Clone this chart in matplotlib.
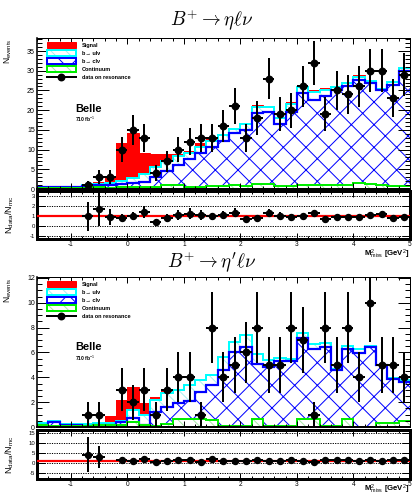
import numpy as np
import matplotlib
matplotlib.use('Agg')
import matplotlib.pyplot as plt
from matplotlib.patches import Patch
from matplotlib.lines import Line2D
from matplotlib.ticker import MultipleLocator

DPI = 136
PT = 72.0 / DPI  # one pixel expressed in points

plt.rcParams['font.family'] = ['Liberation Sans', 'DejaVu Sans']
plt.rcParams['mathtext.fontset'] = 'custom'
plt.rcParams['mathtext.rm'] = 'Liberation Sans'
plt.rcParams['mathtext.it'] = 'Liberation Sans:italic'
plt.rcParams['mathtext.bf'] = 'Liberation Sans:bold'
plt.rcParams['axes.unicode_minus'] = False
plt.rcParams['hatch.linewidth'] = 1.0 * PT

# M^2_miss binning, 0.2 GeV^2 bins from -1.6 to 5.0
edges = np.round(np.arange(-1.6, 5.01, 0.2), 2)
centers = 0.5 * (edges[:-1] + edges[1:])

# B+ -> eta l nu : data and cumulative stack levels (signal on top)
eta_data = [0, 0, 0, 0, 1, 3, 3, 10, 15, 13, 4, 7, 10, 12, 13, 13, 16, 21, 13, 18,
            28, 19, 20, 26, 32, 19, 25, 24, 26, 30, 30, 23, 29]
eta_total = [0.6, 0.5, 0.4, 0.6, 1.0, 1.75, 3.1, 11.6, 14.3, 9.2, 8.8, 8.9, 9.0, 9.6,
             11.6, 13.3, 14.0, 15.3, 16.8, 21.2, 21.1, 18.2, 22.0, 26.2, 25.0, 25.5,
             26.0, 27.0, 28.8, 27.6, 25.5, 27.3, 30.8]
eta_ulnu = [0.6, 0.5, 0.4, 0.5, 0.9, 1.2, 1.5, 2.0, 2.7, 3.9, 5.6, 7.1, 8.3, 9.2,
            10.7, 12.2, 13.6, 15.1, 16.4, 20.8, 20.8, 17.9, 21.6, 25.8, 24.7, 25.2,
            25.8, 26.8, 28.5, 27.4, 25.3, 27.1, 30.6]
eta_clnu = [0.5, 0.5, 0.4, 0.5, 0.8, 0.9, 0.9, 1.2, 1.6, 1.8, 3.1, 4.6, 6.1, 7.5,
            9.1, 10.7, 12.3, 14.1, 15.0, 19.2, 19.6, 16.4, 19.6, 24.4, 22.6, 23.5,
            25.1, 26.0, 27.6, 27.0, 25.0, 26.3, 29.9]
eta_cont = [0.3, 0.3, 0.2, 0.2, 0.3, 0.4, 0.3, 0.4, 0.5, 0.5, 0.4, 0.9, 0.9, 0.5,
            0.6, 0.7, 0.7, 1.1, 0.7, 1.2, 1.2, 0.8, 0.8, 1.0, 1.0, 1.0, 1.0, 1.0,
            1.5, 1.3, 1.1, 0.8, 0.7]

# B+ -> eta' l nu
etap_data = [0, 0, 0, 0, 1, 1, 0, 3, 2, 3, 1, 3, 4, 4, 1, 8, 4, 5, 6, 8, 5, 5, 8, 7,
             1, 8, 5, 8, 4, 10, 5, 5, 4]
etap_total = [0.3, 0.5, 0.25, 0.25, 0.25, 0.35, 0.85, 2.2, 3.23, 1.9, 2.43, 2.9, 3.05,
              3.5, 3.85, 4.3, 5.7, 6.9, 7.45, 5.95, 5.45, 5.6, 5.5, 7.65, 6.75, 6.8,
              4.75, 6.55, 6.35, 6.55, 5.02, 3.97, 3.78]
etap_ulnu = [0.3, 0.5, 0.25, 0.25, 0.25, 0.3, 0.3, 0.5, 1.4, 1.0, 2.2, 2.75, 2.95,
             3.37, 3.8, 4.2, 5.64, 6.84, 7.4, 5.9, 5.37, 5.56, 5.45, 7.6, 6.7, 6.76,
             4.7, 6.5, 6.3, 6.5, 5.0, 3.95, 3.76]
etap_clnu = [0.2, 0.4, 0.15, 0.15, 0.1, 0.15, 0.2, 0.4, 0.75, 0.2, 1.2, 1.6, 1.97,
             2.1, 2.8, 3.36, 4.56, 6.0, 6.4, 5.1, 4.84, 5.3, 5.3, 7.15, 6.26, 6.44,
             4.6, 6.3, 5.96, 6.44, 5.0, 3.9, 3.63]
etap_cont = [0.2, 0.1, 0.1, 0.1, 0.1, 0.15, 0.2, 0.2, 0.4, 0.2, 0.1, 0.25, 0.65, 0.65,
             0.65, 0.55, 0.1, 0.1, 0.1, 0.65, 0.1, 0.1, 0.1, 0.65, 0.65, 0.1, 0.1,
             0.65, 0.0, 0.0, 0.3, 0.3, 0.5]

ULNU_HATCH = '#a8f0f0'
CONT_HATCH = '#a8e8a8'

fig = plt.figure(figsize=(412 / DPI, 496 / DPI), dpi=DPI)

L, W = 36.9 / 412, 373.1 / 412


def box(top_px, bottom_px):
    return [L, 1 - bottom_px / 496, W, (bottom_px - top_px) / 496]


def draw_main(ax, data, total, ulnu, clnu, cont, ymax, major, minor):
    ax.stairs(total, edges, fill=True, facecolor='red', edgecolor='red', lw=0)
    ax.stairs(total, edges, baseline=None, color='red', lw=1 * PT)
    ax.stairs(ulnu, edges, fill=True, facecolor='white', edgecolor=ULNU_HATCH,
              hatch='\\\\\\', lw=0)
    ax.stairs(ulnu, edges, baseline=None, color='cyan', lw=2 * PT)
    ax.stairs(clnu, edges, fill=True, facecolor='white', edgecolor='blue',
              hatch='xx', lw=0)
    ax.stairs(clnu, edges, baseline=None, color='blue', lw=2.2 * PT)
    ax.stairs(cont, edges, fill=True, facecolor='white', edgecolor=CONT_HATCH,
              hatch='\\\\\\', lw=0)
    ax.stairs(cont, edges, baseline=None, color='#00ee00', lw=2 * PT)

    d = np.array(data, float)
    m = d > 0
    ax.errorbar(centers[m], d[m], yerr=np.sqrt(d[m]), xerr=0.1, fmt='o',
                color='black', ms=6 * PT, lw=2 * PT, capsize=0, zorder=5)

    ax.set_xlim(edges[0], edges[-1])
    ax.set_ylim(0, ymax)
    ax.yaxis.set_major_locator(MultipleLocator(major))
    ax.yaxis.set_minor_locator(MultipleLocator(minor))
    ax.xaxis.set_major_locator(MultipleLocator(1))
    ax.xaxis.set_minor_locator(MultipleLocator(0.2))
    ax.tick_params(axis='y', which='major', direction='in', length=12 * PT,
                   width=1 * PT, left=True, right=True, labelsize=7 * PT, pad=2 * PT)
    ax.tick_params(axis='y', which='minor', direction='in', length=5 * PT,
                   width=1 * PT, left=True, right=True)
    ax.tick_params(axis='x', which='both', direction='in', top=True, bottom=True,
                   labelbottom=False, width=1 * PT)
    ax.tick_params(axis='x', which='major', length=6 * PT)
    ax.tick_params(axis='x', which='minor', length=3 * PT)
    for s in ax.spines.values():
        s.set_linewidth(1 * PT)
    ax.spines['left'].set_linewidth(1.6 * PT)
    ax.spines['bottom'].set_linewidth(2 * PT)

    ax.set_ylabel(r'N$_{\mathrm{events}}$', loc='top', fontsize=8.5 * PT)
    ax.yaxis.set_label_coords(-0.062, 1.0)

    ax.text(0.102, 0.53, 'Belle', transform=ax.transAxes, fontsize=11 * PT,
            fontweight='bold', va='center')
    ax.text(0.102, 0.46, r'710 fb$^{-1}$', transform=ax.transAxes,
            fontsize=5 * PT, fontweight='bold', va='center')

    handles = [
        Patch(facecolor='red', edgecolor='red', lw=1 * PT),
        (Patch(facecolor='white', edgecolor=ULNU_HATCH, hatch='\\\\\\', lw=0),
         Patch(facecolor='none', edgecolor='cyan', lw=2 * PT)),
        (Patch(facecolor='white', edgecolor='blue', hatch='x', lw=0),
         Patch(facecolor='none', edgecolor='blue', lw=2 * PT)),
        (Patch(facecolor='white', edgecolor=CONT_HATCH, hatch='\\\\\\', lw=0),
         Patch(facecolor='none', edgecolor='#00ee00', lw=2 * PT)),
        Line2D([], [], color='black', marker='o', ms=6 * PT, lw=2 * PT),
    ]
    labels = ['Signal', 'b\u2192 ul\u03bd', 'b\u2192 cl\u03bd', 'Continuum',
              'data on resonance']
    ax.legend(handles, labels, loc='upper left', bbox_to_anchor=(0.02, 0.985),
              frameon=False, prop={'size': 5.5 * PT, 'weight': 'bold'},
              handlelength=5.4, handleheight=1.2, labelspacing=0.42,
              handletextpad=1.0, borderaxespad=0)


def draw_ratio(ax, data, total, ylo, yhi, step, label_y):
    d = np.array(data, float)
    t = np.array(total, float)
    m = d > 0
    r = d[m] / t[m]
    rerr = r * np.sqrt(1.0 / d[m] + 1.0 / t[m])
    ax.set_xlim(edges[0], edges[-1])
    ax.set_ylim(ylo, yhi)
    ax.yaxis.set_major_locator(MultipleLocator(step))
    ax.xaxis.set_major_locator(MultipleLocator(1))
    ax.xaxis.set_minor_locator(MultipleLocator(0.2))
    ax.yaxis.grid(True, linestyle=(0, (1.2, 1.2)), color='black', lw=1 * PT)
    ax.set_axisbelow(True)
    ax.axhline(1, color='red', lw=2.2 * PT, zorder=3)
    ax.errorbar(centers[m], r, yerr=rerr, xerr=0.1, fmt='o', color='black',
                ms=5.5 * PT, lw=2 * PT, capsize=0, zorder=5)
    ax.tick_params(axis='y', which='major', direction='in', length=8 * PT,
                   width=1 * PT, left=True, right=True, labelsize=6 * PT, pad=2 * PT)
    ax.tick_params(axis='x', which='both', direction='in', top=True, bottom=True,
                   width=1 * PT, labelsize=6.5 * PT, pad=2 * PT)
    ax.tick_params(axis='x', which='major', length=6 * PT)
    ax.tick_params(axis='x', which='minor', length=3 * PT)
    for s in ax.spines.values():
        s.set_linewidth(3 * PT)
    ax.set_ylabel(r'N$_{\mathrm{data}}$/N$_{\mathrm{mc}}$', fontsize=9 * PT)
    ax.yaxis.set_label_coords(-0.057, 0.5)
    ax.set_xlabel(r'M$^{2}_{\mathrm{miss}}$ [GeV$^{2}$]', loc='right',
                  fontsize=7.8 * PT, fontweight='bold')
    ax.xaxis.set_label_coords(0.998, label_y)


ax1 = fig.add_axes(box(38, 189))
r1 = fig.add_axes(box(190.5, 239))
draw_main(ax1, eta_data, eta_total, eta_ulnu, eta_clnu, eta_cont, 38.3, 5, 1)
draw_ratio(r1, eta_data, eta_total, -1.25, 3.55, 1, -0.17)

ax2 = fig.add_axes(box(277, 427))
r2 = fig.add_axes(box(430, 479))
draw_main(ax2, etap_data, etap_total, etap_ulnu, etap_clnu, etap_cont, 12.07, 2, 0.5)
draw_ratio(r2, etap_data, etap_total, -8.2, 16.3, 5, -0.08)

fig.text(212 / 412, 1 - 25 / 496, r'$B^{+} \rightarrow \eta\ell\nu$',
         math_fontfamily='cm', fontsize=19 * PT, ha='center', va='baseline')
fig.text(212 / 412, 1 - 267 / 496, r"$B^{+} \rightarrow \eta^{\prime}\ell\nu$",
         math_fontfamily='cm', fontsize=19 * PT, ha='center', va='baseline')

fig.savefig('out.png', dpi=DPI)
